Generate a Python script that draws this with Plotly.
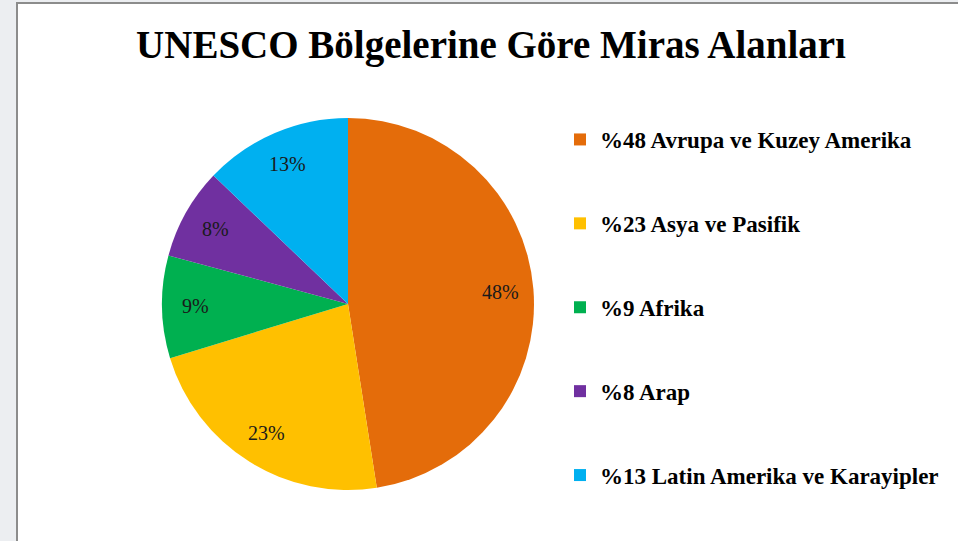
import math
import plotly.graph_objects as go

labels = ["Avrupa ve Kuzey Amerika", "Asya ve Pasifik", "Afrika", "Arap", "Latin Amerika ve Karayipler"]
values = [48, 23, 9, 8, 13]
colors = ["#E46C0A", "#FFC000", "#00B050", "#7030A0", "#00B0F0"]
legend_labels = ["%" + str(v) + " " + l for v, l in zip(values, labels)]

W, H = 958, 541
cx, cy, r = 348, 304, 186

fig = go.Figure()
fig.add_trace(go.Pie(
    labels=labels, values=values, sort=False, direction="clockwise", rotation=0,
    marker=dict(colors=colors, line=dict(width=0)),
    textinfo="none", showlegend=False, hoverinfo="label+value",
    domain=dict(x=[(cx - r) / W, (cx + r) / W], y=[(H - cy - r) / H, (H - cy + r) / H]),
))
for lab, col in zip(legend_labels, colors):
    fig.add_trace(go.Scatter(x=[None], y=[None], mode="markers", name="<b>" + lab + "</b>",
                             legendgroup=lab, marker=dict(symbol="square", size=12, color=col)))

# data labels placed along each slice's mid-angle (derived from the values)
total = sum(values)
annotations = []
cum = 0
for v in values:
    mid = (cum + v / 2) / total * 2 * math.pi
    cum += v
    px = cx + 0.82 * r * math.sin(mid)
    py = cy - 0.82 * r * math.cos(mid)
    annotations.append(dict(x=px / W, y=1 - py / H, xref="paper", yref="paper",
                            text=f"{v}%", showarrow=False, xanchor="center", yanchor="middle",
                            font=dict(family="Liberation Serif", size=20, color="#1a1a1a")))

fig.update_layout(
    width=W, height=H, margin=dict(l=0, r=0, t=0, b=0),
    paper_bgcolor="#eceef1", plot_bgcolor="rgba(0,0,0,0)",
    xaxis=dict(visible=False), yaxis=dict(visible=False),
    title=dict(text="<b>UNESCO Bölgelerine Göre Miras Alanları</b>", x=491 / W, xanchor="center",
               y=1 - 44 / H, yanchor="middle",
               font=dict(family="Liberation Serif", size=39, color="#000000")),
    legend=dict(x=560 / W, y=1 - 118 / H, xanchor="left", yanchor="top",
                font=dict(family="Liberation Serif", size=23, color="#000000"),
                tracegroupgap=51, itemwidth=30, bgcolor="rgba(0,0,0,0)"),
    annotations=annotations,
    shapes=[dict(type="rect", xref="paper", yref="paper", x0=17 / W, x1=1.01, y0=-0.01, y1=1 - 3 / H,
                 fillcolor="#ffffff", line=dict(color="#8c8c8c", width=2), layer="below")],
)
fig.write_html("out.html", post_script="document.body.style.margin='0';",
               config={"displayModeBar": False})
